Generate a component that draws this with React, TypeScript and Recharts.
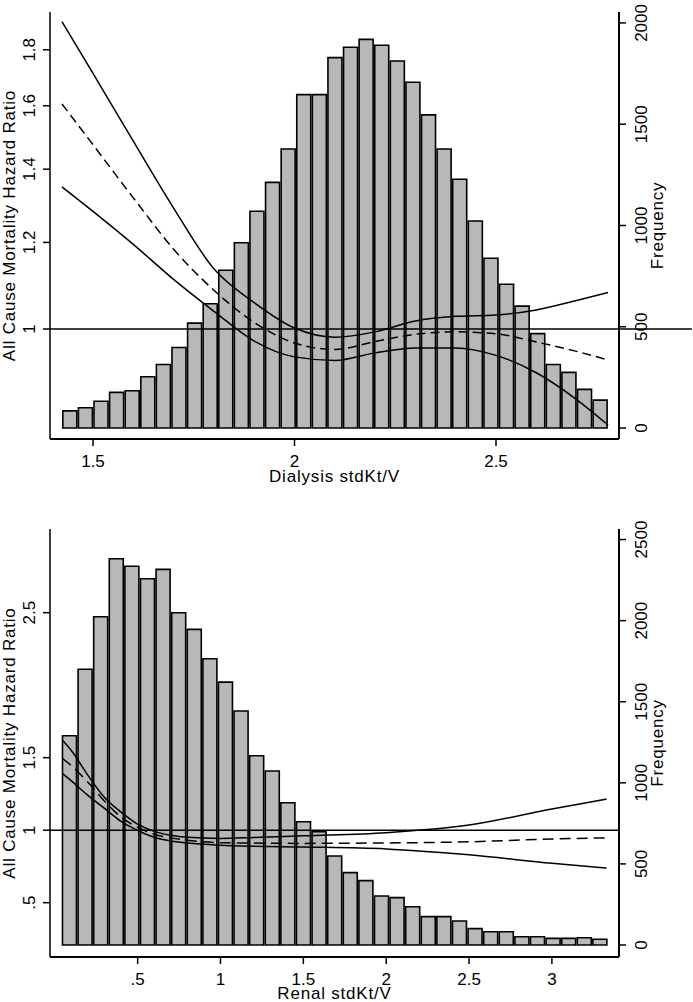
import React from 'react';
import { ComposedChart, Bar, Line, XAxis, YAxis, ReferenceLine } from 'recharts';

const FONT = '"Liberation Sans", Arial, Helvetica, sans-serif';

// ---------- Top panel: Dialysis stdKt/V ----------
const dialysisBins = [
  1.4425, 1.4812, 1.5199, 1.5586, 1.5973, 1.636, 1.6747, 1.7134, 1.7521, 1.7908,
  1.8295, 1.8682, 1.9069, 1.9456, 1.9843, 2.023, 2.0617, 2.1004, 2.1391, 2.1778,
  2.2165, 2.2552, 2.2939, 2.3326, 2.3713, 2.41, 2.4488, 2.4875, 2.5262, 2.5649,
  2.6036, 2.6423, 2.681, 2.7197, 2.7584,
];
const dialysisFreq = [
  85, 100, 132, 176, 184, 253, 314, 398, 518, 614,
  779, 915, 1070, 1213, 1378, 1646, 1646, 1829, 1880, 1919,
  1890, 1812, 1707, 1546, 1378, 1228, 1022, 838, 710, 602,
  466, 314, 275, 191, 138,
];
const dialysisCurveX = [1.423, 1.5, 1.6, 1.7, 1.8, 1.9, 2.0, 2.1, 2.2, 2.3, 2.4, 2.5, 2.6, 2.7, 2.778];
const dialysisUpper = [1.91, 1.713, 1.485, 1.29, 1.135, 1.057, 1.002, 0.983, 0.994, 1.017, 1.027, 1.03, 1.041, 1.062, 1.08];
const dialysisEst = [1.606, 1.474, 1.318, 1.183, 1.085, 1.014, 0.971, 0.958, 0.974, 0.989, 0.994, 0.99, 0.973, 0.954, 0.937];
const dialysisLower = [1.349, 1.281, 1.195, 1.11, 1.038, 0.975, 0.943, 0.936, 0.951, 0.961, 0.961, 0.946, 0.912, 0.862, 0.817];
const dialysisXTicks = [1.5, 2, 2.5];
const dialysisHrTicks = [1, 1.2, 1.4, 1.6, 1.8];
const dialysisFreqTicks = [0, 500, 1000, 1500, 2000];

// ---------- Bottom panel: Renal stdKt/V ----------
const renalBins = [
  0.0887, 0.1828, 0.2769, 0.3711, 0.4652, 0.5594, 0.6535, 0.7477, 0.8418, 0.936,
  1.0301, 1.1243, 1.2184, 1.3126, 1.4067, 1.5009, 1.595, 1.6892, 1.7833, 1.8775,
  1.9716, 2.0658, 2.1599, 2.2541, 2.3482, 2.4424, 2.5365, 2.6307, 2.7248, 2.819,
  2.9131, 3.0073, 3.1014, 3.1956, 3.2897,
];
const renalFreq = [
  1290, 1700, 2024, 2382, 2335, 2258, 2316, 2049, 1946, 1765,
  1621, 1443, 1167, 1073, 877, 760, 699, 549, 446, 397,
  302, 292, 236, 175, 175, 148, 101, 82, 82, 51,
  51, 41, 41, 45, 35,
];
const renalCurveX = [0.045, 0.1, 0.2, 0.3, 0.4, 0.5, 0.6, 0.7, 0.8, 1.0, 1.2, 1.5, 2.0, 2.5, 3.0, 3.33];
const renalUpper = [1.622, 1.549, 1.378, 1.226, 1.125, 1.042, 0.992, 0.965, 0.951, 0.943, 0.95, 0.962, 0.983, 1.035, 1.146, 1.215];
const renalEst = [1.496, 1.445, 1.33, 1.2, 1.09, 1.02, 0.972, 0.947, 0.93, 0.914, 0.911, 0.909, 0.912, 0.92, 0.939, 0.947];
const renalLower = [1.392, 1.34, 1.24, 1.15, 1.06, 0.998, 0.951, 0.925, 0.911, 0.896, 0.889, 0.884, 0.871, 0.83, 0.772, 0.739];
const renalXTicks = [0.5, 1, 1.5, 2, 2.5, 3];
const renalHrTicks = [0.5, 1, 1.5, 2.5];
const renalFreqTicks = [0, 500, 1000, 1500, 2000, 2500];

const fmt = (v: number) => String(v).replace(/^0\./, '.');

const makeBars = (xs: number[], fs: number[]) => xs.map((x, i) => ({ x, freq: fs[i] }));
const makeCurve = (xs: number[], ys: number[]) => xs.map((x, i) => ({ x, hr: ys[i] }));

const RotTick = (offset: number) => (props: any) => {
  const { x, y, payload } = props;
  const cx = x + offset;
  return (
    <text
      x={cx}
      y={y}
      transform={`rotate(-90 ${cx} ${y})`}
      textAnchor="middle"
      dy="0.36em"
      fontSize={17}
      fontFamily={FONT}
      fill="#000"
    >
      {fmt(payload.value)}
    </text>
  );
};

const VTitle = (text: string, bx: number) => (props: any) => {
  const vb = props.viewBox || {};
  const x = vb.x + bx;
  const y = vb.y + vb.height / 2;
  return (
    <text
      x={x}
      y={y}
      transform={`rotate(-90 ${x} ${y})`}
      textAnchor="middle"
      fontSize={17}
      letterSpacing={0.8}
      fontFamily={FONT}
      fill="#000"
    >
      {text}
    </text>
  );
};

const HTitle = (text: string, dy: number) => (props: any) => {
  const vb = props.viewBox || {};
  return (
    <text
      x={vb.x + vb.width / 2}
      y={vb.y + dy}
      textAnchor="middle"
      fontSize={17}
      letterSpacing={0.8}
      fontFamily={FONT}
      fill="#000"
    >
      {text}
    </text>
  );
};

type PanelProps = {
  height: number;
  marginTop: number;
  xAxisHeight: number;
  titleDy: number;
  xDomain: [number, number];
  xTicks: number[];
  xTitle: string;
  hrDomain: [number, number];
  hrTicks: number[];
  logScale: boolean;
  freqDomain: [number, number];
  freqTicks: number[];
  bins: number[];
  freq: number[];
  curveX: number[];
  upper: number[];
  est: number[];
  lower: number[];
  refEndX: number;
  dash: string;
};

function Panel(p: PanelProps) {
  const bars = makeBars(p.bins, p.freq);
  return (
    <ComposedChart
      width={693}
      height={p.height}
      data={bars}
      margin={{ top: p.marginTop, right: 0, bottom: 0, left: 0 }}
      barCategoryGap="5%"
      barGap={0}
    >
      <XAxis
        xAxisId="bin"
        dataKey="x"
        type="number"
        domain={p.xDomain}
        allowDataOverflow
        ticks={p.xTicks}
        tickFormatter={fmt}
        height={p.xAxisHeight}
        tickSize={7}
        tickMargin={9}
        interval={0}
        axisLine={{ stroke: '#000', strokeWidth: 2 }}
        tickLine={{ stroke: '#000', strokeWidth: 1.5 }}
        tick={{ fontSize: 17, fill: '#000', fontFamily: FONT }}
        label={HTitle(p.xTitle, p.titleDy)}
      />
      <XAxis
        xAxisId="curve"
        dataKey="x"
        type="number"
        orientation="top"
        domain={p.xDomain}
        allowDataOverflow
        height={0}
        tick={false}
        tickLine={false}
        axisLine={{ stroke: '#000', strokeWidth: 1.5 }}
      />
      <YAxis
        yAxisId="hr"
        orientation="left"
        width={50}
        scale={p.logScale ? 'log' : 'linear'}
        domain={p.hrDomain}
        allowDataOverflow
        ticks={p.hrTicks}
        interval={0}
        tickSize={7}
        tickMargin={2}
        axisLine={{ stroke: '#000', strokeWidth: 1.5 }}
        tickLine={{ stroke: '#000', strokeWidth: 1.5 }}
        tick={RotTick(-12.5)}
        label={VTitle('All Cause Mortality Hazard Ratio', 15)}
      />
      <YAxis
        yAxisId="freq"
        orientation="right"
        width={74}
        domain={p.freqDomain}
        allowDataOverflow
        ticks={p.freqTicks}
        interval={0}
        tickSize={7}
        tickMargin={2}
        axisLine={{ stroke: '#000', strokeWidth: 2 }}
        tickLine={{ stroke: '#000', strokeWidth: 1.5 }}
        tick={RotTick(13)}
        label={VTitle('Frequency', 44)}
      />
      <Bar
        xAxisId="bin"
        yAxisId="freq"
        dataKey="freq"
        fill="#b8b8b8"
        stroke="#000"
        strokeWidth={1.6}
        isAnimationActive={false}
      />
      <ReferenceLine
        xAxisId="curve"
        yAxisId="hr"
        segment={[
          { x: p.xDomain[0], y: 1 },
          { x: p.refEndX, y: 1 },
        ]}
        ifOverflow="visible"
        stroke="#000"
        strokeWidth={1.5}
      />
      <Line
        xAxisId="curve"
        yAxisId="hr"
        data={makeCurve(p.curveX, p.upper)}
        dataKey="hr"
        type="monotone"
        stroke="#000"
        strokeWidth={1.5}
        dot={false}
        isAnimationActive={false}
      />
      <Line
        xAxisId="curve"
        yAxisId="hr"
        data={makeCurve(p.curveX, p.est)}
        dataKey="hr"
        type="monotone"
        stroke="#000"
        strokeWidth={1.5}
        strokeDasharray={p.dash}
        dot={false}
        isAnimationActive={false}
      />
      <Line
        xAxisId="curve"
        yAxisId="hr"
        data={makeCurve(p.curveX, p.lower)}
        dataKey="hr"
        type="monotone"
        stroke="#000"
        strokeWidth={1.5}
        dot={false}
        isAnimationActive={false}
      />
    </ComposedChart>
  );
}

export default function App() {
  return (
    <div
      style={{
        position: 'absolute',
        left: 0,
        top: 0,
        width: 693,
        height: 1002,
        background: '#fff',
        overflow: 'hidden',
        fontFamily: FONT,
      }}
    >
      <div style={{ position: 'absolute', left: 0, top: 0 }}>
        <Panel
          height={500}
          marginTop={12}
          xAxisHeight={61}
          titleDy={43}
          xDomain={[1.3933, 2.8052]}
          xTicks={dialysisXTicks}
          xTitle="Dialysis stdKt/V"
          hrDomain={[0.7933, 1.949]}
          hrTicks={dialysisHrTicks}
          logScale={true}
          freqDomain={[-54, 2054]}
          freqTicks={dialysisFreqTicks}
          bins={dialysisBins}
          freq={dialysisFreq}
          curveX={dialysisCurveX}
          upper={dialysisUpper}
          est={dialysisEst}
          lower={dialysisLower}
          refEndX={2.986}
          dash="9 5"
        />
      </div>
      <div style={{ position: 'absolute', left: 0, top: 500 }}>
        <Panel
          height={502}
          marginTop={29}
          xAxisHeight={45}
          titleDy={42}
          xDomain={[-0.029, 3.405]}
          xTicks={renalXTicks}
          xTitle="Renal stdKt/V"
          hrDomain={[0.1255, 3.077]}
          hrTicks={renalHrTicks}
          logScale={false}
          freqDomain={[-74, 2565]}
          freqTicks={renalFreqTicks}
          bins={renalBins}
          freq={renalFreq}
          curveX={renalCurveX}
          upper={renalUpper}
          est={renalEst}
          lower={renalLower}
          refEndX={3.405}
          dash="11 6"
        />
      </div>
    </div>
  );
}
